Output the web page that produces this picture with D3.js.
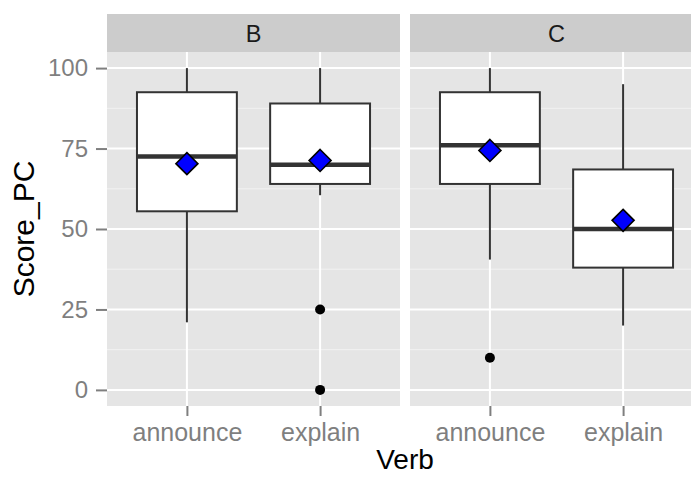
<!DOCTYPE html>
<html>
<head>
<meta charset="utf-8">
<script src="https://cdn.jsdelivr.net/npm/d3@7"></script>
<style>
  html, body { margin: 0; padding: 0; background: #ffffff; }
  svg { display: block; font-family: Arial, "Liberation Sans", sans-serif; }
</style>
</head>
<body>
<svg id="chart" width="691" height="477"></svg>
<script>
// Facets and categories
const facets = ["B", "C"];
const verbs = ["announce", "explain"];

// Box-plot summaries per facet, in verb order
const whiskerLow  = { B: [21, 60.5], C: [40.5, 20] };
const q1          = { B: [55.5, 64], C: [64, 38] };
const medians     = { B: [72.5, 70], C: [76, 50] };
const q3          = { B: [92.5, 89], C: [92.5, 68.5] };
const whiskerHigh = { B: [100, 100], C: [100, 95] };
const means       = { B: [70.3, 71.3], C: [74.4, 52.7] };
const outliers    = { B: [[], [25, 0]], C: [[10], []] };

const yTicks = [0, 25, 50, 75, 100];
const yMinor = [12.5, 37.5, 62.5, 87.5];

const svg = d3.select("#chart");

const panelTop = 52, panelBottom = 406, stripTop = 14;
const panelX = { B: [107, 400], C: [410, 703] };

const y = d3.scaleLinear().domain([-5, 105]).range([panelBottom, panelTop]);

facets.forEach(f => {
  const [x0, x1] = panelX[f];
  const x = d3.scalePoint().domain(verbs).range([x0, x1]).padding(0.6);
  const step = x.step();
  const boxW = step * 0.75;

  const g = svg.append("g");

  // panel background
  g.append("rect").attr("x", x0).attr("y", panelTop)
    .attr("width", x1 - x0).attr("height", panelBottom - panelTop)
    .attr("fill", "#e5e5e5");

  // minor grid
  g.selectAll(".minor").data(yMinor).enter().append("line")
    .attr("x1", x0).attr("x2", x1)
    .attr("y1", d => y(d)).attr("y2", d => y(d))
    .attr("stroke", "#f2f2f2").attr("stroke-width", 1);

  // major grid
  g.selectAll(".major").data(yTicks).enter().append("line")
    .attr("x1", x0).attr("x2", x1)
    .attr("y1", d => y(d)).attr("y2", d => y(d))
    .attr("stroke", "#ffffff").attr("stroke-width", 2);
  g.selectAll(".vmajor").data(verbs).enter().append("line")
    .attr("x1", d => x(d)).attr("x2", d => x(d))
    .attr("y1", panelTop).attr("y2", panelBottom)
    .attr("stroke", "#ffffff").attr("stroke-width", 2);

  // strip
  g.append("rect").attr("x", x0).attr("y", stripTop)
    .attr("width", x1 - x0).attr("height", panelTop - stripTop)
    .attr("fill", "#cccccc");
  g.append("text").attr("x", (x0 + x1) / 2).attr("y", 42)
    .attr("text-anchor", "middle").attr("font-size", 23.5).attr("fill", "#1a1a1a")
    .text(f);

  // boxes
  verbs.forEach((v, i) => {
    const cx = x(v);
    const col = "#333333";
    // whiskers
    g.append("line").attr("x1", cx).attr("x2", cx)
      .attr("y1", y(whiskerHigh[f][i])).attr("y2", y(q3[f][i]))
      .attr("stroke", col).attr("stroke-width", 2);
    g.append("line").attr("x1", cx).attr("x2", cx)
      .attr("y1", y(q1[f][i])).attr("y2", y(whiskerLow[f][i]))
      .attr("stroke", col).attr("stroke-width", 2);
    // box
    g.append("rect").attr("x", cx - boxW / 2).attr("y", y(q3[f][i]))
      .attr("width", boxW).attr("height", y(q1[f][i]) - y(q3[f][i]))
      .attr("fill", "#ffffff").attr("stroke", col).attr("stroke-width", 2);
    // median
    g.append("line").attr("x1", cx - boxW / 2).attr("x2", cx + boxW / 2)
      .attr("y1", y(medians[f][i])).attr("y2", y(medians[f][i]))
      .attr("stroke", col).attr("stroke-width", 4.5);
    // outliers
    g.selectAll(null).data(outliers[f][i]).enter().append("circle")
      .attr("cx", cx).attr("cy", d => y(d)).attr("r", 5).attr("fill", "#000000");
    // mean diamond
    const m = y(means[f][i]), r = 11;
    g.append("path")
      .attr("d", `M${cx},${m - r}L${cx + r},${m}L${cx},${m + r}L${cx - r},${m}Z`)
      .attr("fill", "#0000ff").attr("stroke", "#000000").attr("stroke-width", 1.6);
  });

  // x axis
  const xAxis = svg.append("g").attr("transform", `translate(0,${panelBottom})`)
    .call(d3.axisBottom(x).tickSize(10).tickPadding(7));
  xAxis.select(".domain").remove();
  xAxis.selectAll("line").attr("stroke", "#7f7f7f").attr("stroke-width", 2);
  xAxis.selectAll("text").attr("font-size", 25).attr("fill", "#7f7f7f")
    .attr("font-family", "Arial, 'Liberation Sans', sans-serif");
});

// y axis
const yAxis = svg.append("g").attr("transform", `translate(${panelX.B[0]},0)`)
  .call(d3.axisLeft(y).tickValues(yTicks).tickSize(11).tickPadding(8));
yAxis.select(".domain").remove();
yAxis.selectAll("line").attr("stroke", "#7f7f7f").attr("stroke-width", 2);
yAxis.selectAll("text").attr("font-size", 24).attr("fill", "#7f7f7f")
  .attr("font-family", "Arial, 'Liberation Sans', sans-serif");

// axis titles
svg.append("text").attr("x", 405).attr("y", 469)
  .attr("text-anchor", "middle").attr("font-size", 28).attr("fill", "#000000")
  .text("Verb");
svg.append("text")
  .attr("transform", `translate(34,${(panelTop + panelBottom) / 2}) rotate(-90)`)
  .attr("text-anchor", "middle").attr("font-size", 30).attr("fill", "#000000")
  .text("Score_PC");
</script>
</body>
</html>
